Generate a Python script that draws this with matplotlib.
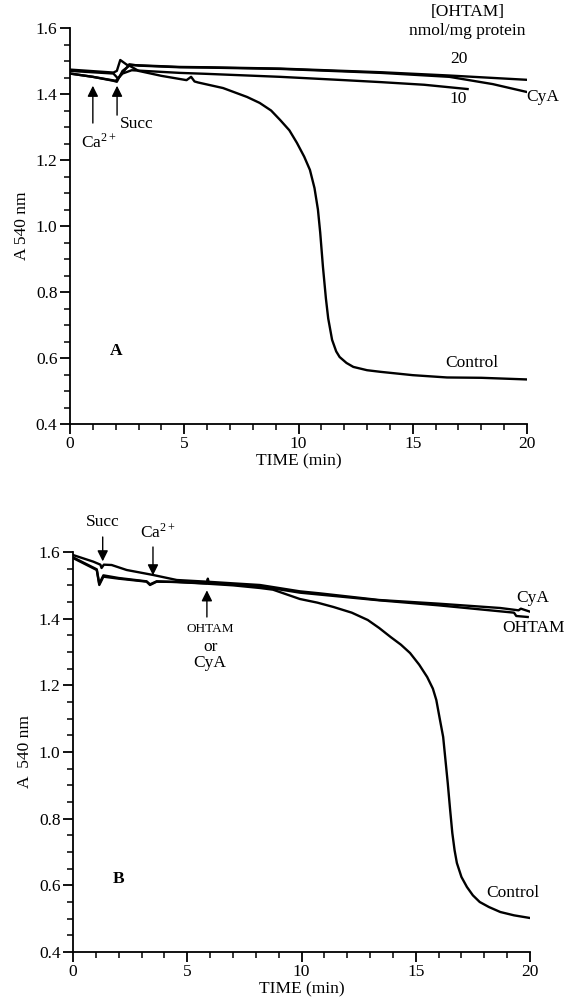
import matplotlib
matplotlib.use("Agg")
import matplotlib.pyplot as plt
from matplotlib.ticker import MultipleLocator

plt.rcParams['font.family'] = ['Liberation Serif', 'DejaVu Serif']
plt.rcParams['mathtext.fontset'] = 'stix'

# ---------------- Panel A data ----------------
a_ctrl_x = [0, 1.0, 1.9, 2.05, 2.3, 2.6, 3.0, 4.0, 5.1, 5.3, 5.45, 5.6, 6.7, 7.75, 8.3, 8.8,
            9.2, 9.6, 9.93, 10.25, 10.5, 10.7, 10.85, 10.95, 11.07, 11.2, 11.3, 11.47,
            11.65, 11.8, 12.1, 12.4, 13.0, 13.6, 15.0, 16.5, 18.0, 20]
a_ctrl_y = [1.462, 1.452, 1.44, 1.437, 1.47, 1.486, 1.47, 1.455, 1.442, 1.452, 1.438, 1.435,
            1.418, 1.391, 1.373, 1.35, 1.321, 1.29, 1.252, 1.21, 1.17, 1.115, 1.05, 0.98,
            0.876, 0.78, 0.72, 0.655, 0.62, 0.603, 0.585, 0.573, 0.563, 0.558, 0.548,
            0.541, 0.54, 0.535]

a_20_x = [0, 1.9, 2.05, 2.2, 2.5, 3.0, 4.8, 6.0, 9.2, 13.6, 16.6, 20]
a_20_y = [1.474, 1.465, 1.47, 1.503, 1.488, 1.487, 1.482, 1.481, 1.477, 1.466, 1.456, 1.443]

a_cya_x = [0, 1.9, 2.1, 2.6, 3.0, 4.8, 6.0, 9.2, 13.6, 16.6, 18.5, 20]
a_cya_y = [1.47, 1.462, 1.447, 1.49, 1.486, 1.481, 1.48, 1.476, 1.464, 1.452, 1.43, 1.406]

a_10_x = [0, 1.0, 2.0, 2.3, 2.7, 4.8, 6.0, 9.2, 12.0, 13.6, 15.5, 17.4]
a_10_y = [1.462, 1.452, 1.44, 1.462, 1.472, 1.464, 1.461, 1.452, 1.442, 1.436, 1.428, 1.415]

# ---------------- Panel B data ----------------
b_cya_x = [0, 0.89, 1.2, 1.25, 1.35, 1.69, 2.35, 3.51, 4.54, 5.85, 7.0, 8.18, 9.93, 10.8,
           13.4, 16.0, 18.7, 19.5, 19.6, 20]
b_cya_y = [1.591, 1.571, 1.562, 1.552, 1.562, 1.561, 1.546, 1.531, 1.516, 1.511, 1.506,
           1.501, 1.482, 1.476, 1.456, 1.445, 1.432, 1.425, 1.43, 1.421]

b_oht_x = [0, 1.04, 1.15, 1.33, 2.0, 3.22, 3.37, 3.66, 4.54, 5.85, 5.9, 5.95, 7.0, 8.18,
           9.93, 13.4, 16.0, 18.7, 19.3, 19.4, 19.9]
b_oht_y = [1.582, 1.546, 1.501, 1.526, 1.52, 1.511, 1.501, 1.511, 1.51, 1.506, 1.52, 1.506,
           1.503, 1.497, 1.478, 1.455, 1.44, 1.422, 1.418, 1.408, 1.405]

b_ctrl_x = [0, 1.04, 1.15, 1.33, 2.0, 3.22, 3.37, 3.66, 4.54, 5.85, 7.0, 8.18, 8.75, 9.93,
            10.7, 11.4, 12.2, 12.9, 13.4, 13.9, 14.35, 14.75, 15.15, 15.5, 15.75, 15.9,
            16.05, 16.2, 16.3, 16.4, 16.5, 16.6, 16.7, 16.8, 17.0, 17.24, 17.5, 17.8,
            18.2, 18.7, 19.3, 20]
b_ctrl_y = [1.584, 1.548, 1.505, 1.53, 1.522, 1.512, 1.503, 1.512, 1.51, 1.505, 1.5, 1.492,
            1.487, 1.459, 1.448, 1.435, 1.418, 1.396, 1.372, 1.345, 1.322, 1.297, 1.262,
            1.225, 1.19, 1.156, 1.1, 1.045, 0.976, 0.907, 0.83, 0.757, 0.705, 0.667,
            0.625, 0.595, 0.57, 0.55, 0.535, 0.52, 0.51, 0.502]

x_ticks = [0, 5, 10, 15, 20]
y_ticks = [0.4, 0.6, 0.8, 1.0, 1.2, 1.4, 1.6]

W, H = 570, 1006
fig = plt.figure(figsize=(W / 100, H / 100), dpi=100)
axA = fig.add_axes([70 / W, 1 - 424 / H, 457 / W, 396 / H])
axB = fig.add_axes([73 / W, 1 - 952 / H, 457 / W, 400 / H])

FS = 12.5
for ax in (axA, axB):
    ax.set_xlim(0, 20)
    ax.set_ylim(0.4, 1.6)
    ax.set_xticks(x_ticks)
    ax.set_yticks(y_ticks)
    ax.set_yticklabels([f"{v:.1f}" for v in y_ticks])
    ax.xaxis.set_minor_locator(MultipleLocator(1))
    ax.yaxis.set_minor_locator(MultipleLocator(0.05))
    for s in ('top', 'right'):
        ax.spines[s].set_visible(False)
    for s in ('left', 'bottom'):
        ax.spines[s].set_linewidth(1.3)
    ax.tick_params(which='major', direction='out', length=7, width=1.3, labelsize=FS, pad=2)
    ax.tick_params(which='minor', direction='out', length=4, width=1.1)
    ax.set_xlabel('TIME (min)', fontsize=FS, labelpad=1)

lw = 1.7
axA.plot(a_ctrl_x, a_ctrl_y, color='k', lw=lw)
axA.plot(a_20_x, a_20_y, color='k', lw=lw)
axA.plot(a_cya_x, a_cya_y, color='k', lw=lw)
axA.plot(a_10_x, a_10_y, color='k', lw=lw)
axA.set_ylabel('A 540 nm', fontsize=FS, labelpad=4)

aprops = dict(arrowstyle='-|>', color='k', lw=1.0, mutation_scale=16, shrinkA=0, shrinkB=0)
axA.annotate('', xy=(1.0, 1.425), xytext=(1.0, 1.312), arrowprops=aprops)
axA.annotate('', xy=(2.06, 1.425), xytext=(2.06, 1.336), arrowprops=aprops)
axA.text(0.5, 1.255, r'Ca$^{\mathregular{2+}}$', fontsize=FS, ha='left', va='center')
axA.text(2.2, 1.31, 'Succ', fontsize=FS, ha='left', va='center')
axA.text(17.4, 1.65, '[OHTAM]', fontsize=FS, ha='center', va='center', clip_on=False)
axA.text(17.4, 1.59, 'nmol/mg protein', fontsize=FS, ha='center', va='center', clip_on=False)
axA.text(17.0, 1.505, '20', fontsize=FS, ha='center', va='center')
axA.text(17.0, 1.385, '10', fontsize=FS, ha='center', va='center')
axA.text(20.7, 1.39, 'CyA', fontsize=FS, ha='center', va='center', clip_on=False)
axA.text(17.6, 0.585, 'Control', fontsize=FS, ha='center', va='center')
axA.text(2.0, 0.62, 'A', fontsize=FS, ha='center', va='center', fontweight='bold')

axB.plot(b_ctrl_x, b_ctrl_y, color='k', lw=lw)
axB.plot(b_oht_x, b_oht_y, color='k', lw=lw)
axB.plot(b_cya_x, b_cya_y, color='k', lw=lw)
axB.set_ylabel('A  540 nm', fontsize=FS, labelpad=4)

axB.annotate('', xy=(1.3, 1.572), xytext=(1.3, 1.645), arrowprops=aprops, annotation_clip=False)
axB.annotate('', xy=(3.5, 1.53), xytext=(3.5, 1.615), arrowprops=aprops, annotation_clip=False)
axB.annotate('', xy=(5.86, 1.485), xytext=(5.86, 1.405), arrowprops=aprops)
axB.text(1.3, 1.69, 'Succ', fontsize=FS, ha='center', va='center', clip_on=False)
axB.text(3.7, 1.66, r'Ca$^{\mathregular{2+}}$', fontsize=FS, ha='center', va='center', clip_on=False)
axB.text(6.0, 1.37, 'OHTAM', fontsize=9.5, ha='center', va='center')
axB.text(6.0, 1.316, 'or', fontsize=FS, ha='center', va='center')
axB.text(6.0, 1.267, 'CyA', fontsize=FS, ha='center', va='center')
axB.text(20.1, 1.462, 'CyA', fontsize=FS, ha='center', va='center', clip_on=False)
axB.text(20.15, 1.372, 'OHTAM', fontsize=FS, ha='center', va='center', clip_on=False)
axB.text(18.1, 0.577, 'Control', fontsize=FS, ha='left', va='center')
axB.text(2.0, 0.62, 'B', fontsize=FS, ha='center', va='center', fontweight='bold')

fig.savefig('out.png', dpi=100)
